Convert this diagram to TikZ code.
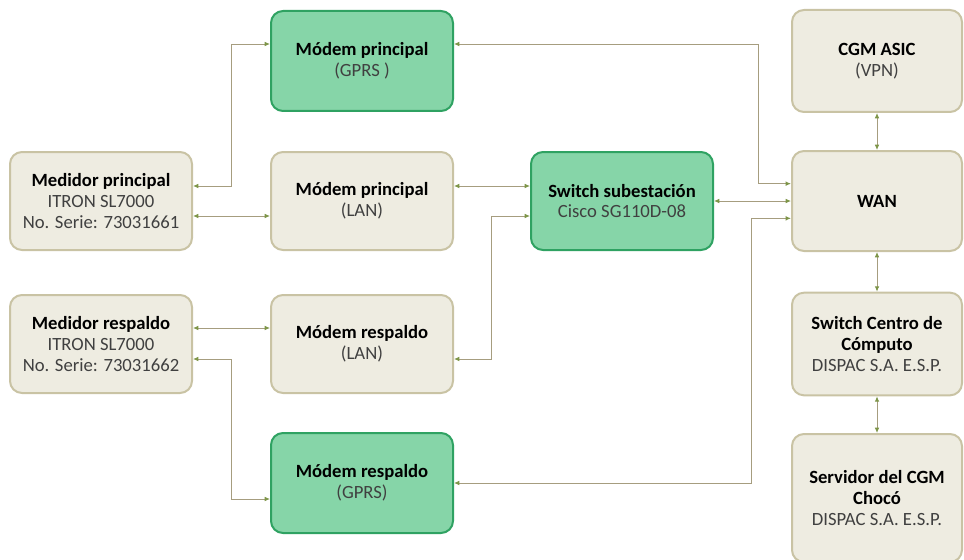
\documentclass[tikz,border=0pt]{standalone}
\usepackage{fontspec}
\setmainfont{Carlito}
\usetikzlibrary{arrows.meta}

\definecolor{boxfill}{HTML}{EEECE1}
\definecolor{boxline}{HTML}{C9C3A4}
\definecolor{greenfill}{HTML}{86D5A8}
\definecolor{greenline}{HTML}{2FA262}
\definecolor{linkc}{HTML}{A69D7F}
\definecolor{tipc}{HTML}{7D9548}
\definecolor{subtext}{HTML}{404040}

\tikzset{
  box/.style={draw=boxline, fill=boxfill, line width=1.5pt, rounded corners=9pt,
    minimum width=136.5pt, minimum height=73.5pt, align=center,
    font=\fontsize{14}{15.5}\selectfont},
  gbox/.style={box, draw=greenline, fill=greenfill},
  rbox/.style={box, minimum width=127.5pt},
  link/.style={draw=linkc, line width=0.7pt,
    {Latex[length=4pt,width=3.5pt,color=tipc]}-{Latex[length=4pt,width=3.5pt,color=tipc]}},
}

\begin{document}
\begin{tikzpicture}[x=0.75pt,y=-0.75pt]
  \useasboundingbox (0,0) rectangle (964,560);

  % Medidores
  \node[box] (medp) at (101,201) {\textbf{Medidor principal}\\{\color{subtext}ITRON SL7000}\\{\color{subtext}No. Serie: 73031661}};
  \node[box] (medr) at (101,344) {\textbf{Medidor respaldo}\\{\color{subtext}ITRON SL7000}\\{\color{subtext}No. Serie: 73031662}};

  % Modems
  \node[gbox, minimum height=75pt] (mpgprs) at (362,61) {\textbf{Módem principal}\\{\color{subtext}(GPRS )}};
  \node[box] (mplan) at (362,201) {\textbf{Módem principal}\\{\color{subtext}(LAN)}};
  \node[box] (mrlan) at (362,344) {\textbf{Módem respaldo}\\{\color{subtext}(LAN)}};
  \node[gbox, minimum height=75pt] (mrgprs) at (362,483) {\textbf{Módem respaldo}\\{\color{subtext}(GPRS)}};

  % Switch de la subestacion
  \node[gbox] (swsub) at (622,201) {\textbf{Switch subestación}\\{\color{subtext}Cisco SG110D-08}};

  % Columna derecha
  \node[rbox, minimum height=76.5pt] (cgm) at (877,61) {\textbf{CGM ASIC}\\{\color{subtext}(VPN)}};
  \node[rbox, minimum height=75pt] (wan) at (877,201) {\textbf{WAN}};
  \node[rbox, minimum height=77pt] (swcc) at (877,344) {\textbf{Switch Centro de}\\\textbf{Cómputo}\\{\color{subtext}DISPAC S.A. E.S.P.}};
  \node[rbox, minimum height=96pt] (serv) at (877,498) {\textbf{Servidor del CGM}\\\textbf{Chocó}\\{\color{subtext}DISPAC S.A. E.S.P.}};

  % Conexiones
  \draw[link] ([yshift=11.25pt]medp.east) -- ++(38,0) |- ([yshift=12.75pt]mpgprs.west);
  \draw[link] ([yshift=-11.25pt]medp.east) -- ([yshift=-11.25pt]mplan.west);
  \draw[link] ([yshift=11.25pt]mplan.east) -- ([yshift=11.25pt]swsub.west);
  \draw[link] ([yshift=-11.25pt]swsub.west) -- ++(-39,0) |- ([yshift=-11.25pt]mrlan.east);
  \draw[link] (swsub.east) -- (wan.west);
  \draw[link] ([yshift=12.75pt]mpgprs.east) -- ++(304,0) |- ([yshift=13pt]wan.west);
  \draw[link] (mrgprs.east) -- ++(297,0) |- ([yshift=-13pt]wan.west);
  \draw[link] ([yshift=12pt]medr.east) -- ([yshift=12pt]mrlan.west);
  \draw[link] ([yshift=-11.25pt]medr.east) -- ++(38,0) |- ([yshift=-12pt]mrgprs.west);
  \draw[link] (cgm.south) -- (wan.north);
  \draw[link] (wan.south) -- (swcc.north);
  \draw[link] (swcc.south) -- (serv.north);
\end{tikzpicture}
\end{document}
